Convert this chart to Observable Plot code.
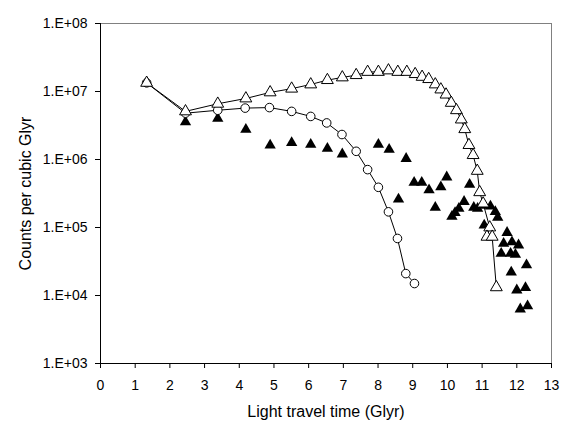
<!DOCTYPE html>
<html>
<head>
<meta charset="utf-8">
<script src="https://cdn.jsdelivr.net/npm/d3@7"></script>
<script src="https://cdn.jsdelivr.net/npm/@observablehq/plot@0.6"></script>
<style>
  html, body { margin: 0; padding: 0; background: #fff; }
  #chart svg { display: block; }
</style>
</head>
<body>
<div id="chart"></div>
<script>
// Open triangles (connected)
const openTriX = [1.33, 2.45, 3.38, 4.19, 4.89, 5.51, 6.06, 6.54, 6.97, 7.37, 7.70, 8.01, 8.30, 8.57, 8.83, 9.07, 9.27, 9.46, 9.65, 9.81, 9.96, 10.11, 10.26, 10.40, 10.50, 10.62, 10.74, 10.86, 10.93, 11.03, 11.22, 11.14, 11.29, 11.41];
const openTriY = [1.34e7, 5.1e6, 6.6e6, 7.9e6, 9.7e6, 1.1e7, 1.27e7, 1.47e7, 1.61e7, 1.74e7, 1.94e7, 1.94e7, 2.04e7, 1.94e7, 1.94e7, 1.8e7, 1.64e7, 1.52e7, 1.27e7, 1.07e7, 9.0e6, 6.8e6, 5.3e6, 3.87e6, 2.79e6, 1.63e6, 1.16e6, 6.8e5, 3.3e5, 2.25e5, 1.0e5, 7.3e4, 7.3e4, 1.32e4];

// Open circles (connected)
const circX = [1.33, 2.45, 3.38, 4.17, 4.87, 5.51, 6.06, 6.52, 6.96, 7.37, 7.70, 8.01, 8.30, 8.56, 8.80, 9.05];
const circY = [1.34e7, 4.8e6, 5.3e6, 5.7e6, 5.8e6, 5.1e6, 4.3e6, 3.45e6, 2.33e6, 1.32e6, 7.1e5, 3.9e5, 1.7e5, 6.9e4, 2.1e4, 1.5e4];

// Filled triangles (scatter)
const fillX = [2.45, 3.38, 4.19, 4.89, 5.51, 6.06, 6.54, 6.97, 8.01, 8.32, 8.59, 8.81, 9.04, 9.26, 9.47, 9.65, 9.81, 9.98, 10.13, 10.22, 10.33, 10.48, 10.64, 10.76, 10.87, 11.03, 11.06, 11.24, 11.38, 11.45, 11.55, 11.62, 11.72, 11.82, 11.84, 11.86, 11.96, 12.0, 12.05, 12.10, 12.25, 12.28, 12.31];
const fillY = [3.57e6, 4.0e6, 2.76e6, 1.62e6, 1.76e6, 1.66e6, 1.45e6, 1.2e6, 1.66e6, 1.4e6, 2.6e5, 1.03e6, 4.6e5, 4.6e5, 3.55e5, 1.97e5, 3.95e5, 5.5e5, 1.45e5, 1.65e5, 1.9e5, 2.4e5, 4.3e5, 1.97e5, 1.9e5, 2.1e5, 1.08e5, 2.05e5, 1.7e5, 1.4e5, 4.15e4, 5.8e4, 8.4e4, 4.15e4, 2.2e4, 6.1e4, 4.0e4, 1.2e4, 5.5e4, 6.3e3, 1.3e4, 2.8e4, 7.0e3];

const xTicks = [0,1,2,3,4,5,6,7,8,9,10,11,12,13];
const yTicks = [1e3, 1e4, 1e5, 1e6, 1e7, 1e8];
const yTickLabels = ["1.E+03", "1.E+04", "1.E+05", "1.E+06", "1.E+07", "1.E+08"];
const xTitle = "Light travel time (Glyr)";
const yTitle = "Counts per cubic Glyr";

const openTri = openTriX.map((x, i) => ({x, y: openTriY[i]}));
const circ = circX.map((x, i) => ({x, y: circY[i]}));
const filled = fillX.map((x, i) => ({x, y: fillY[i]}));

const chart = Plot.plot({
  width: 573,
  height: 436,
  marginLeft: 100,
  marginRight: 22,
  marginTop: 23,
  marginBottom: 73,
  style: {fontFamily: "'Liberation Sans', Arial, sans-serif", fontSize: "14px", background: "#fff", color: "#000"},
  x: {domain: [0, 13]},
  y: {type: "log", domain: [1e3, 1e8]},
  marks: [
    Plot.ruleY([1e8], {stroke: "#808080", strokeWidth: 1}),
    Plot.ruleX([13], {stroke: "#808080", strokeWidth: 1}),
    Plot.ruleX([0], {stroke: "#000", strokeWidth: 1}),
    Plot.ruleY([1e3], {stroke: "#000", strokeWidth: 1}),
    Plot.axisX({ticks: xTicks, tickFormat: d => String(d), tickSize: 5, tickPadding: 12, fontSize: 14,
      label: xTitle, labelAnchor: "center", labelOffset: 53, labelArrow: "none"}),
    Plot.axisY({ticks: yTicks, tickFormat: d => yTickLabels[yTicks.indexOf(d)], tickSize: 5, tickPadding: 8, fontSize: 14,
      label: yTitle, labelAnchor: "center", labelOffset: 81, labelArrow: "none"}),
    Plot.line(circ, {x: "x", y: "y", stroke: "#000", strokeWidth: 1}),
    Plot.line(openTri, {x: "x", y: "y", stroke: "#000", strokeWidth: 1}),
    Plot.dot(filled, {x: "x", y: "y", symbol: "triangle", r: 4.2, fill: "#000", stroke: "none"}),
    Plot.dot(circ, {x: "x", y: "y", symbol: "circle", r: 4.3, fill: "#fff", stroke: "#000", strokeWidth: 1}),
    Plot.dot(openTri, {x: "x", y: "y", symbol: "triangle", r: 4.4, fill: "#fff", stroke: "#000", strokeWidth: 1})
  ]
});
document.getElementById("chart").appendChild(chart);
d3.select(chart).selectAll("g[aria-label='x-axis label'] text, g[aria-label='y-axis label'] text").style("font-size", "16px");
</script>
</body>
</html>
